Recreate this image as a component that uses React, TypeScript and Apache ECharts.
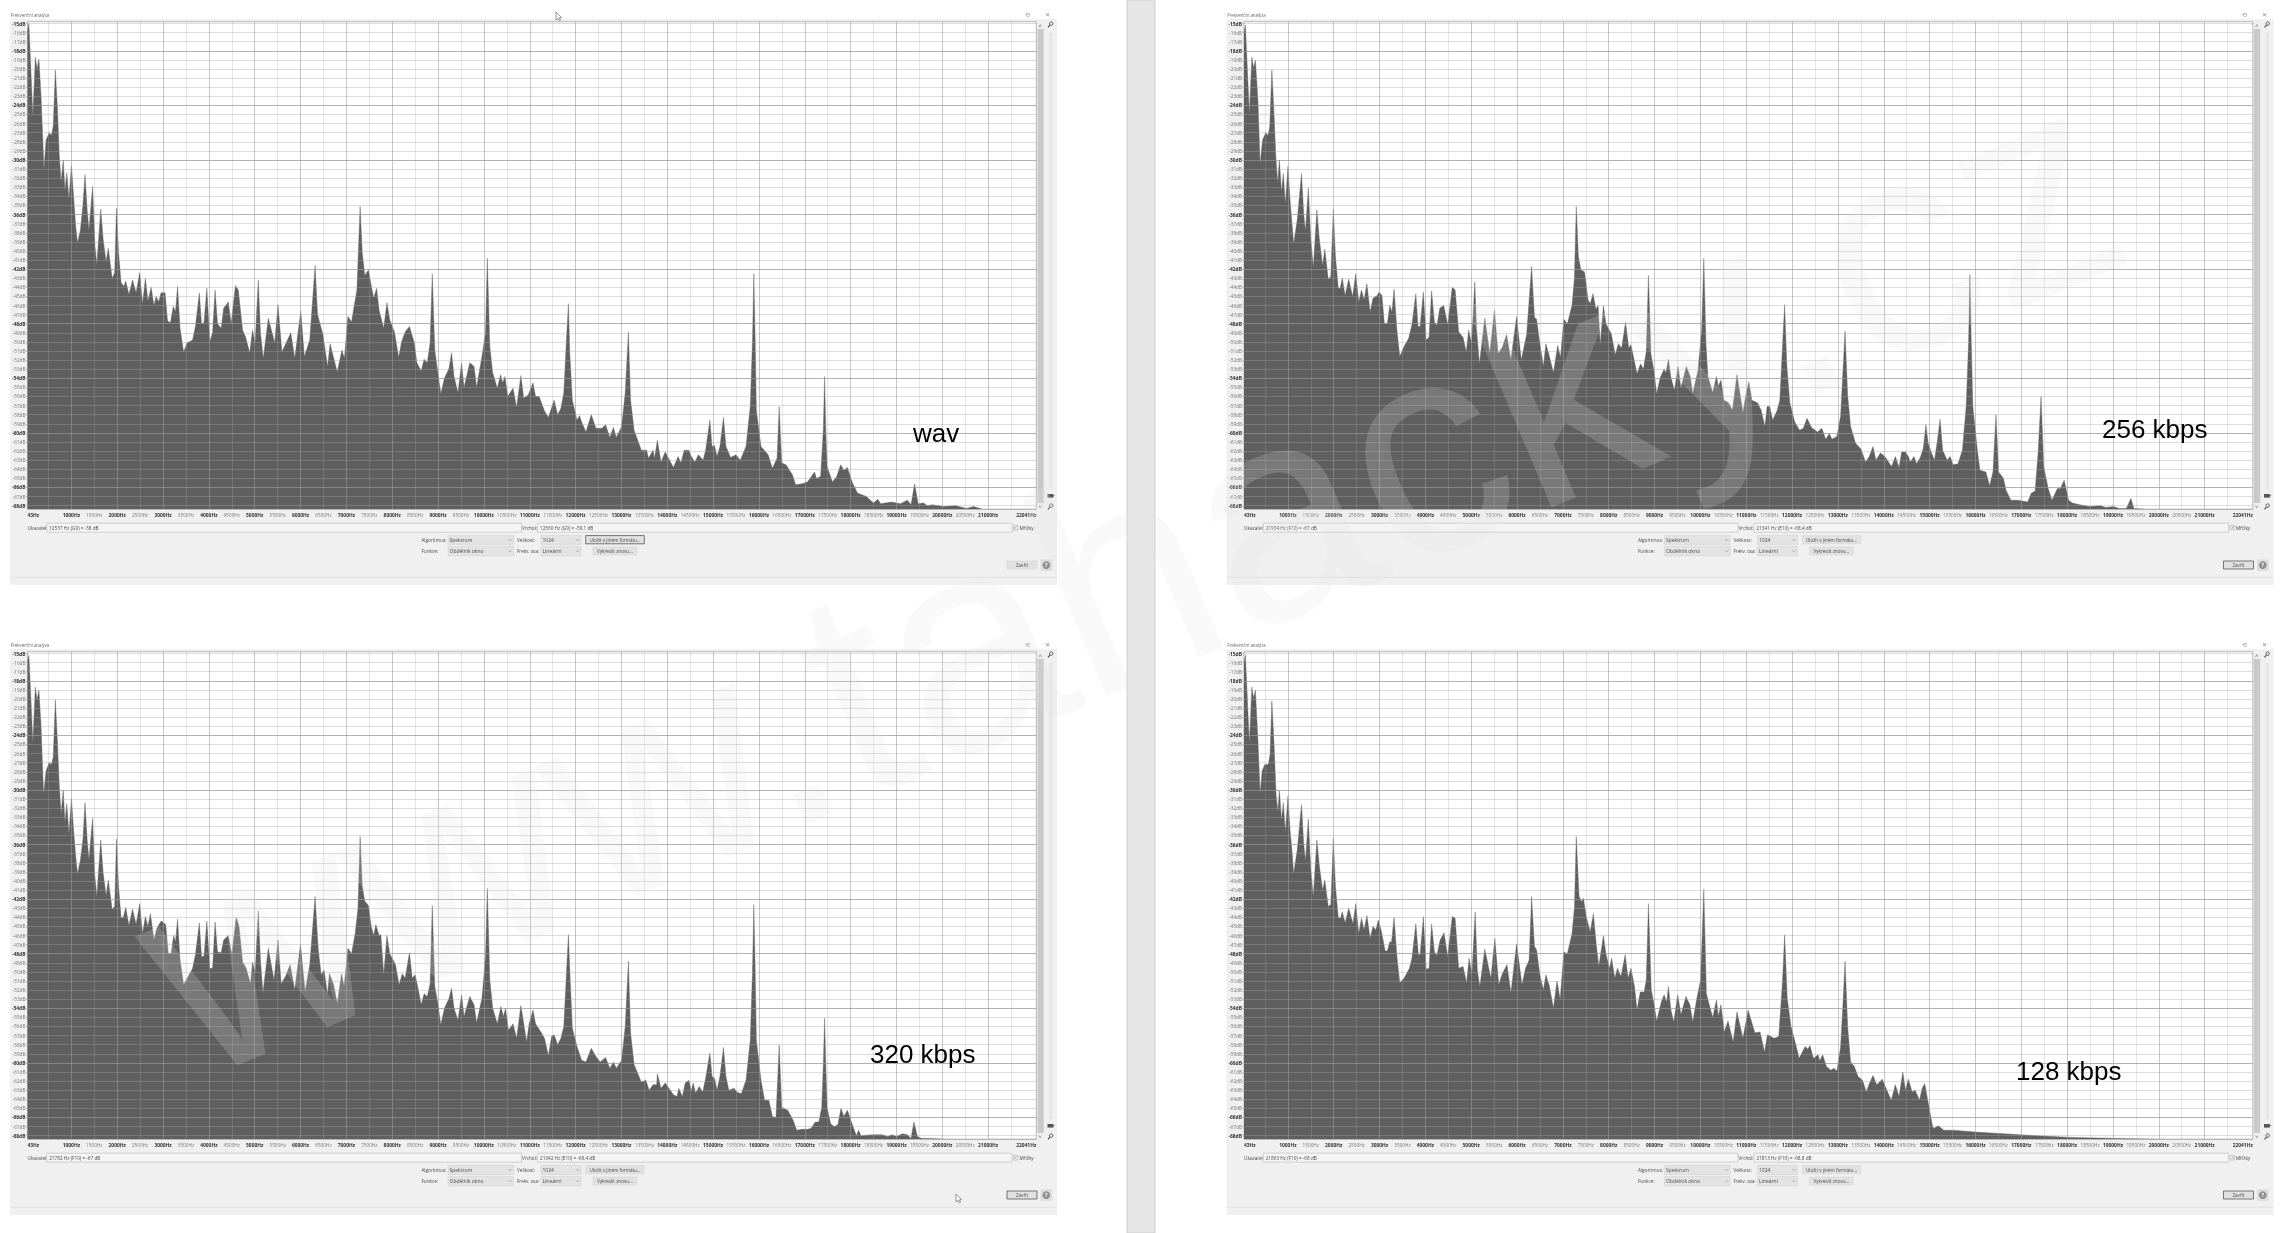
import React, { useEffect, useRef } from "react";
import * as echarts from "echarts";

const wavSpectrum = [[43,-16],[74,-15],[160,-25.2],[214,-18.7],[253,-20],[292,-18.9],[339,-23],[402,-31],[448,-27.8],[518,-27],[565,-27.3],[604,-26.3],[651,-20.1],[698,-24.5],[737,-29.6],[776,-32.4],[822,-30],[861,-33.3],[900,-31.4],[947,-34.3],[1002,-30.6],[1048,-34],[1095,-37.3],[1134,-39.1],[1197,-37.7],[1251,-35],[1298,-31.6],[1345,-35.5],[1384,-37.7],[1462,-32.9],[1516,-39.5],[1555,-41.5],[1641,-35.4],[1695,-38.8],[1758,-41.2],[1805,-39.7],[1890,-43],[1945,-42.4],[1984,-35.3],[2030,-40.2],[2085,-43.5],[2147,-43.9],[2186,-43.3],[2256,-44.8],[2334,-43.2],[2412,-44.6],[2490,-42.4],[2553,-45.8],[2615,-43],[2670,-45.5],[2740,-44],[2802,-46],[2849,-45],[2904,-45.6],[2958,-44.6],[3044,-44.6],[3098,-47.7],[3161,-47.9],[3223,-46.1],[3270,-46.7],[3317,-43.9],[3371,-48.5],[3449,-51.1],[3527,-50.1],[3644,-49.8],[3706,-48.3],[3792,-44.6],[3839,-48],[3893,-47.9],[3956,-44.1],[4018,-50],[4080,-49],[4135,-44.3],[4189,-48],[4267,-48.5],[4322,-46.3],[4423,-45.6],[4486,-48],[4579,-43.8],[4642,-44.3],[4735,-48.7],[4797,-49.4],[4891,-51.2],[4953,-48.7],[5008,-50.2],[5078,-43.2],[5125,-49],[5187,-51.8],[5296,-47.4],[5437,-50.1],[5507,-45.9],[5593,-51.1],[5787,-49],[5873,-51.8],[6005,-46.6],[6083,-51.6],[6200,-49.8],[6317,-41.6],[6371,-47],[6488,-49.2],[6590,-52.7],[6644,-50.2],[6800,-53.3],[6902,-50.9],[6956,-51.8],[7034,-47.2],[7112,-47.8],[7167,-46.1],[7229,-44.3],[7299,-35.1],[7346,-40.2],[7401,-42.7],[7479,-42.1],[7541,-43.8],[7595,-45.2],[7658,-44.1],[7712,-46.5],[7814,-48.5],[7884,-45.7],[7946,-47.6],[8048,-48.9],[8141,-51.7],[8203,-50],[8281,-48.9],[8375,-48.3],[8476,-50],[8538,-52.3],[8632,-53.2],[8694,-51.9],[8764,-52.3],[8826,-50.1],[8873,-42.5],[8928,-50.9],[8990,-53.2],[9060,-55.7],[9138,-54],[9239,-52.9],[9294,-51.2],[9348,-53.8],[9434,-55.6],[9512,-52.3],[9566,-55],[9691,-52.3],[9785,-52.7],[9840,-55],[9957,-51.6],[10035,-49],[10074,-40.8],[10129,-50.5],[10191,-53.4],[10292,-55.1],[10362,-53.6],[10409,-54.5],[10460,-53.8],[10518,-56],[10635,-55.1],[10713,-57.2],[10806,-53.7],[10869,-56.2],[10970,-55.8],[11071,-54.5],[11126,-56],[11204,-56],[11321,-57.6],[11406,-58.3],[11531,-56.4],[11609,-58],[11679,-57.3],[11742,-55.6],[11804,-49.4],[11843,-45.8],[11874,-51.3],[11929,-56.4],[12030,-58.6],[12085,-58.1],[12131,-58.8],[12225,-59.9],[12342,-58],[12443,-59.5],[12576,-59.5],[12654,-59.1],[12747,-60.5],[12825,-59.4],[12887,-60.5],[13004,-59.3],[13082,-55.6],[13152,-48.9],[13199,-56.4],[13277,-59.7],[13433,-61.9],[13550,-61.9],[13589,-62.8],[13690,-61.9],[13721,-62.8],[13784,-60.8],[13862,-63.2],[13955,-62.1],[14134,-63.8],[14236,-62.6],[14298,-63.3],[14368,-61.9],[14470,-61.9],[14524,-62.6],[14602,-63.2],[14680,-62.4],[14781,-63],[14836,-61.9],[14929,-58.6],[14976,-61.5],[15031,-61.4],[15085,-62.6],[15148,-61.5],[15226,-58.3],[15280,-61.5],[15381,-62.7],[15498,-62.4],[15592,-63],[15717,-61.5],[15810,-57.1],[15858,-50],[15888,-42.5],[15918,-50],[15943,-57.5],[16044,-61.5],[16200,-62.4],[16293,-63.9],[16395,-62.8],[16441,-57.1],[16496,-63.3],[16589,-63.5],[16730,-64.6],[16800,-65.7],[16940,-65.6],[17057,-65.4],[17213,-64.3],[17252,-65],[17345,-64.8],[17405,-59.5],[17431,-53.8],[17457,-59.5],[17486,-63.7],[17603,-65.4],[17696,-64.8],[17782,-63.5],[17852,-64.1],[17930,-63.8],[18031,-65.4],[18148,-66.6],[18343,-67],[18499,-67.7],[18593,-67.3],[18655,-67.8],[18889,-67.6],[19084,-67.8],[19239,-67.4],[19317,-67.9],[19395,-65.6],[19473,-67.8],[19590,-67.7],[19668,-68],[19785,-67.9],[20019,-68.1],[20292,-68],[20526,-68.3],[20682,-68.1],[20877,-68.4],[22050,-68.4]];

const kbps320Spectrum = [[43,-16],[74,-15.2],[160,-24.8],[214,-18.7],[253,-20.1],[292,-19],[339,-23],[394,-30.5],[448,-27.9],[518,-27],[565,-27.2],[604,-26.4],[651,-20.1],[698,-24.9],[737,-29.6],[776,-32.6],[822,-30],[861,-33.5],[900,-31.5],[947,-34.8],[1002,-30.9],[1048,-34.4],[1095,-37.3],[1134,-39.2],[1197,-37.7],[1251,-35.5],[1298,-31.4],[1345,-35.5],[1384,-37.7],[1462,-33.1],[1508,-39.2],[1555,-41.7],[1641,-35.5],[1695,-39.2],[1758,-41.6],[1805,-39.9],[1890,-43.1],[1945,-42.8],[1984,-35.4],[2030,-40.6],[2085,-44.1],[2140,-43.9],[2186,-42.9],[2256,-44.9],[2334,-43.1],[2412,-44.8],[2490,-42.5],[2553,-45.8],[2615,-43.9],[2670,-45],[2724,-43.6],[2802,-46.5],[2865,-45.2],[2958,-44.4],[3059,-44.8],[3114,-48],[3176,-48],[3231,-46],[3270,-46.7],[3317,-44.2],[3371,-48.7],[3449,-51.4],[3527,-50.7],[3644,-49.6],[3706,-48.1],[3792,-44.6],[3839,-48.3],[3893,-48.3],[3956,-44.4],[4018,-49.6],[4080,-49.6],[4135,-44.5],[4189,-47.8],[4267,-47.9],[4322,-46.5],[4423,-46],[4501,-48.1],[4595,-44],[4657,-45],[4735,-48.9],[4813,-49.6],[4906,-51.3],[4953,-48.9],[5008,-50.2],[5078,-43.3],[5125,-48.7],[5179,-52.3],[5296,-47.4],[5421,-50.9],[5507,-46.5],[5577,-51.3],[5670,-50.5],[5772,-49.2],[5873,-52],[5998,-47],[6099,-52.2],[6200,-49.2],[6317,-41.7],[6387,-47.6],[6450,-50.3],[6512,-49.8],[6590,-52.5],[6629,-50.2],[6722,-51.4],[6800,-53.5],[6894,-50.2],[6949,-51.6],[7034,-47.4],[7112,-48],[7190,-45.8],[7252,-43],[7299,-35.1],[7346,-40.6],[7401,-42.2],[7479,-42.7],[7541,-45],[7595,-46],[7642,-44.8],[7712,-46],[7751,-45.9],[7814,-50.3],[7884,-46],[7946,-48],[8071,-49.2],[8149,-51.4],[8219,-50.2],[8281,-50.7],[8375,-47.9],[8437,-50.7],[8500,-50.3],[8570,-52],[8632,-53.6],[8694,-52.4],[8764,-52.7],[8826,-51.3],[8873,-42.7],[8928,-51.6],[8990,-53.3],[9060,-55.8],[9138,-54],[9239,-52.9],[9294,-51.8],[9348,-54],[9434,-55.3],[9512,-52.5],[9566,-54.9],[9691,-52.7],[9785,-53.6],[9840,-55.6],[9957,-52.9],[10035,-48.3],[10074,-40.8],[10129,-50.9],[10191,-54],[10292,-55.7],[10370,-53.8],[10425,-54.9],[10472,-54],[10534,-56.4],[10635,-55.7],[10713,-57.3],[10806,-53.7],[10931,-57.7],[10986,-55.7],[11071,-54.2],[11126,-55.7],[11243,-56.6],[11321,-57.3],[11406,-59.2],[11477,-57.1],[11531,-56.9],[11609,-58],[11679,-57.3],[11742,-56],[11804,-49.8],[11843,-45.9],[11882,-50.9],[11929,-56.2],[12030,-58.2],[12131,-59.7],[12225,-59.9],[12342,-58.4],[12443,-59.3],[12537,-59.9],[12654,-59.4],[12747,-60.6],[12825,-59.9],[12887,-60.6],[13004,-59.7],[13082,-56],[13152,-48.8],[13199,-56.7],[13277,-60.2],[13433,-62.1],[13534,-61.9],[13604,-63],[13690,-62.4],[13768,-62.4],[13784,-61.2],[13862,-62.8],[13955,-62.2],[14134,-63.5],[14212,-63.7],[14251,-62.8],[14329,-63.7],[14392,-62.2],[14470,-61.9],[14524,-63.1],[14563,-62.2],[14618,-63.3],[14696,-62.6],[14774,-63.2],[14836,-61.7],[14929,-58.9],[14976,-61.5],[15031,-61.7],[15085,-63],[15148,-61.5],[15226,-58.3],[15280,-61.5],[15343,-63],[15460,-62.8],[15514,-63.2],[15615,-63.4],[15717,-61.9],[15810,-57.5],[15858,-50],[15888,-42.6],[15918,-50],[15943,-57.5],[16044,-61.9],[16122,-64.1],[16215,-64.1],[16293,-65.9],[16371,-66],[16441,-58],[16496,-64.9],[16628,-65.2],[16745,-66.3],[16823,-67.4],[16940,-67.3],[17057,-67.3],[17135,-67.2],[17228,-66.5],[17306,-66.5],[17369,-64.9],[17405,-60],[17431,-55.1],[17457,-60],[17486,-64.9],[17564,-66.7],[17642,-67],[17720,-66.8],[17790,-65],[17852,-65.9],[17930,-65.2],[18031,-66.7],[18125,-68],[18172,-67.4],[18226,-68],[18460,-67.9],[18694,-67.9],[18811,-68.1],[18904,-67.9],[19005,-68.1],[19122,-67.8],[19239,-67.9],[19317,-68.3],[19380,-66.5],[19457,-68.1],[19551,-68.3],[19746,-68.3],[20100,-68.4],[22050,-68.4]];

const kbps256Spectrum = [[43,-16],[74,-15.2],[160,-24.9],[214,-18.7],[253,-19.9],[292,-19],[347,-23.4],[394,-30.5],[448,-27.8],[518,-27],[565,-27.3],[604,-26.4],[651,-20.1],[698,-24.9],[737,-29.6],[776,-32.5],[815,-30],[861,-33.5],[900,-31.5],[947,-34.8],[1002,-30.7],[1048,-34.4],[1095,-37.3],[1126,-39.2],[1204,-36.6],[1298,-31.5],[1345,-35.9],[1384,-37.8],[1446,-33.1],[1501,-38.8],[1555,-41.8],[1633,-35.5],[1688,-38.8],[1758,-41.6],[1805,-39.8],[1882,-43.1],[1937,-42.8],[1992,-35.4],[2038,-40.6],[2100,-44.1],[2140,-44.1],[2186,-43],[2249,-44.9],[2327,-43.1],[2412,-45],[2482,-42.5],[2545,-45.6],[2607,-44.3],[2662,-45.4],[2724,-43.6],[2794,-46.7],[2857,-45.2],[2950,-44.9],[2989,-44.5],[3052,-44.9],[3106,-48],[3169,-48],[3223,-46],[3270,-46.7],[3317,-44.2],[3379,-48.7],[3441,-51.6],[3535,-50.5],[3636,-49.6],[3706,-48.1],[3792,-44.7],[3839,-48.3],[3885,-48.3],[3956,-44.5],[4018,-49.8],[4080,-49.5],[4135,-44.4],[4197,-47.8],[4252,-48.2],[4314,-46.3],[4400,-46],[4486,-48.1],[4587,-44],[4649,-44.3],[4727,-48.9],[4821,-49.5],[4891,-51.1],[4945,-48.7],[5008,-50.2],[5078,-43.4],[5117,-48.7],[5179,-52.4],[5296,-47.4],[5405,-51.3],[5507,-46.5],[5585,-51.3],[5678,-50.6],[5772,-49.2],[5865,-52],[5990,-47.2],[6091,-52],[6208,-49.2],[6317,-41.7],[6380,-47.3],[6426,-47.5],[6497,-50.2],[6574,-52.7],[6629,-50.2],[6691,-51.3],[6793,-53.4],[6886,-50.4],[6948,-51.7],[7019,-47.5],[7097,-48],[7198,-46],[7252,-42.9],[7291,-35.1],[7338,-40.6],[7393,-42.1],[7471,-42.3],[7549,-45.4],[7595,-45.8],[7658,-44.7],[7720,-46.4],[7767,-46],[7814,-50.3],[7884,-46],[7938,-48],[8055,-49.1],[8141,-51.4],[8211,-50.2],[8281,-50.7],[8367,-47.8],[8437,-50.7],[8484,-50.3],[8617,-53.5],[8694,-52.4],[8757,-53],[8819,-51],[8866,-42.7],[8920,-51.3],[8990,-53.3],[9045,-55.7],[9123,-53.9],[9208,-53],[9247,-53.4],[9302,-51.9],[9356,-53.9],[9434,-55.3],[9512,-52.7],[9575,-55.1],[9692,-52.7],[9777,-53.8],[9832,-55.7],[9949,-53.1],[10027,-48.7],[10074,-40.8],[10121,-50.2],[10163,-53.8],[10268,-55.6],[10350,-53.8],[10390,-54.9],[10447,-54.2],[10512,-56.4],[10610,-56.7],[10699,-57.5],[10797,-53.6],[10927,-57.8],[11000,-55.6],[11057,-54.4],[11122,-56.4],[11244,-56.7],[11325,-57.5],[11407,-59.3],[11455,-57.1],[11512,-57.1],[11577,-58.6],[11675,-57.5],[11732,-56.4],[11797,-49.8],[11837,-45.9],[11886,-52.7],[11951,-56.7],[12057,-58.8],[12163,-59.7],[12244,-59.5],[12325,-58.4],[12423,-59.4],[12553,-59.9],[12650,-59.5],[12732,-60.7],[12813,-60.1],[12870,-60.7],[12976,-60.4],[13057,-58.2],[13106,-53.5],[13155,-48.8],[13212,-55.9],[13276,-59.3],[13382,-61.1],[13504,-61.8],[13602,-63.2],[13683,-62.6],[13764,-61.5],[13829,-63],[13927,-62.2],[14024,-62.6],[14170,-63.7],[14252,-62.6],[14333,-63.8],[14390,-62.1],[14471,-62.1],[14537,-62.6],[14577,-63.2],[14659,-62.6],[14715,-63.4],[14797,-62.7],[14862,-61.7],[14919,-59.1],[14967,-61.1],[15041,-62.2],[15106,-63],[15171,-60.8],[15228,-58.5],[15285,-61.9],[15382,-63],[15447,-62.6],[15512,-63.5],[15618,-63.4],[15715,-61.9],[15797,-57.1],[15850,-50],[15878,-42.6],[15908,-50],[15943,-57.1],[16041,-61.9],[16098,-64.1],[16228,-64.3],[16309,-65.8],[16382,-64.3],[16447,-58],[16504,-64.3],[16610,-65],[16667,-66.3],[16772,-67.4],[16935,-67.4],[17138,-67.6],[17220,-66.6],[17301,-66.4],[17366,-62.2],[17431,-56],[17488,-63.7],[17586,-66.1],[17668,-67.4],[17788,-66.1],[17853,-66.1],[17935,-65.2],[18032,-67.4],[18112,-67.7],[18276,-67.9],[18480,-68.1],[18724,-68],[18846,-68.2],[19008,-68.1],[19130,-68.3],[19293,-68.3],[19390,-67.2],[19455,-68.3],[19740,-68.4],[22050,-68.4]];

const kbps128Spectrum = [[43,-16],[74,-15.2],[160,-24.9],[214,-18.7],[253,-19.9],[292,-19],[347,-24.5],[394,-30.4],[440,-27.9],[495,-27.2],[573,-27.2],[612,-26.1],[651,-20.2],[698,-24.9],[744,-30.6],[783,-32.4],[815,-30],[861,-33.3],[900,-31.4],[947,-34.6],[1002,-30.7],[1048,-34.4],[1095,-37],[1126,-39.2],[1204,-36.6],[1298,-31.6],[1345,-35.9],[1384,-37.8],[1446,-33.2],[1501,-38.8],[1555,-41.7],[1633,-35.5],[1688,-38.4],[1758,-41],[1805,-39.9],[1882,-42.8],[1937,-42.6],[1992,-35.3],[2038,-40.6],[2100,-44],[2147,-44.1],[2186,-43.4],[2249,-44.6],[2327,-43],[2420,-44.7],[2482,-42.5],[2545,-45.8],[2607,-44.1],[2662,-45.4],[2724,-43.8],[2794,-46.3],[2857,-45],[2919,-45.4],[2973,-44.3],[3044,-45.6],[3122,-47.7],[3169,-47.7],[3223,-46.7],[3262,-46.7],[3317,-44],[3379,-48.3],[3441,-51.2],[3535,-50.7],[3652,-49.6],[3706,-48.5],[3792,-44.7],[3847,-48.1],[3885,-48.1],[3956,-43.9],[4018,-49.7],[4080,-49.6],[4135,-44.7],[4197,-47.8],[4252,-48.2],[4322,-46.5],[4407,-45.7],[4486,-48.3],[4587,-43.9],[4649,-44.1],[4727,-49.6],[4821,-49.4],[4899,-51.2],[4953,-48.5],[5016,-50.2],[5086,-43.4],[5133,-49.8],[5187,-51.6],[5296,-47.5],[5429,-50.7],[5515,-46.3],[5600,-51.4],[5678,-50.2],[5780,-49.2],[5865,-52.3],[5990,-46.9],[6107,-51.4],[6185,-49.6],[6263,-48.7],[6317,-41.7],[6380,-47.2],[6426,-47.6],[6497,-50.3],[6574,-52],[6629,-50.3],[6707,-51.6],[6793,-54],[6871,-51],[6941,-53],[7019,-47.8],[7097,-48],[7198,-45.8],[7252,-42.9],[7291,-35.1],[7353,-41.7],[7408,-42.3],[7447,-41.9],[7509,-43.9],[7595,-45.6],[7665,-43.6],[7728,-47],[7783,-49.4],[7884,-46],[7938,-48],[8016,-49.6],[8063,-48.5],[8133,-50.7],[8188,-49.6],[8266,-50.5],[8359,-48.1],[8422,-50.7],[8484,-49.6],[8562,-51.6],[8617,-54.2],[8687,-52.2],[8772,-52.2],[8819,-50.9],[8866,-42.5],[8928,-52],[8990,-53.6],[9045,-55.4],[9146,-53.3],[9208,-52.5],[9263,-53.3],[9302,-51.6],[9356,-54.2],[9419,-55.5],[9504,-52.5],[9575,-54.7],[9684,-52.7],[9770,-53.6],[9832,-55.5],[9926,-52.8],[10004,-50.9],[10074,-40.9],[10130,-52.4],[10187,-53.5],[10268,-55],[10350,-53.1],[10390,-54.9],[10447,-53.6],[10520,-56.6],[10602,-55.4],[10715,-57.7],[10797,-54.4],[10927,-57.3],[11041,-54.2],[11187,-56.7],[11301,-56.6],[11398,-58.8],[11463,-56.9],[11610,-57.3],[11708,-57.1],[11789,-51.2],[11837,-45.9],[11894,-52.9],[11976,-56],[12081,-58],[12154,-59.5],[12285,-58.2],[12342,-58.5],[12390,-58.1],[12463,-59.5],[12569,-59.1],[12601,-59.8],[12667,-59.1],[12748,-60.4],[12845,-60.8],[12910,-60.6],[12976,-60.9],[13057,-58.3],[13114,-53.1],[13155,-48.8],[13212,-56],[13276,-59.9],[13358,-60.4],[13439,-61.5],[13537,-61.9],[13618,-63.2],[13683,-62.3],[13764,-61.4],[13846,-62.4],[13967,-61.8],[14049,-62.8],[14163,-64.1],[14252,-62.4],[14333,-63.7],[14415,-61],[14472,-63],[14537,-61.8],[14618,-63.2],[14683,-63],[14780,-64.1],[14837,-62.8],[14894,-62.3],[14959,-64.1],[15065,-67],[15090,-67.2],[15187,-66.9],[15309,-67.4],[15512,-67.4],[16000,-67.6],[16975,-67.9],[18112,-68.2],[19170,-68.3],[20146,-68.4],[22050,-68.4]];

const panelNames = ["wav", "256 kbps", "320 kbps", "128 kbps"];
const panelSpectra = [wavSpectrum, kbps256Spectrum, kbps320Spectrum, kbps128Spectrum];
const cursorTexts = ["12537 Hz (G9) = -58 dB", "21934 Hz (F10) = -67 dB", "21782 Hz (F10) = -67 dB", "21863 Hz (F10) = -68 dB"];
const peakTexts = ["12560 Hz (G9) = -59,1 dB", "21341 Hz (E10) = -68,4 dB", "21342 Hz (E10) = -68,4 dB", "21813 Hz (F10) = -68,8 dB"];

const xGridTicks = [500,1000,1500,2000,2500,3000,3500,4000,4500,5000,5500,6000,6500,7000,7500,8000,8500,9000,9500,10000,10500,11000,11500,12000,12500,13000,13500,14000,14500,15000,15500,16000,16500,17000,17500,18000,18500,19000,19500,20000,20500,21000,21500];
const xTickLabels = [43,1000,1500,2000,2500,3000,3500,4000,4500,5000,5500,6000,6500,7000,7500,8000,8500,9000,9500,10000,10500,11000,11500,12000,12500,13000,13500,14000,14500,15000,15500,16000,16500,17000,17500,18000,18500,19000,19500,20000,20500,21000,22050];
const yTicks = [-68,-67,-66,-65,-64,-63,-62,-61,-60,-59,-58,-57,-56,-55,-54,-53,-52,-51,-50,-49,-48,-47,-46,-45,-44,-43,-42,-41,-40,-39,-38,-37,-36,-35,-34,-33,-32,-31,-30,-29,-28,-27,-26,-25,-24,-23,-22,-21,-20,-19,-18,-17,-16,-15];

const FONT = '"Open Sans", sans-serif';
const PANEL_OFFSETS = [[0, 0], [1216.5, 0], [0, 630], [1216.5, 630]];
const LABEL_POS = [[913, 420], [2102, 415.5], [870, 1041], [2016, 1058]];
const TITLE = "Frekvenční analýza";

function label(text: string, x: number, y: number, extra: any = {}) {
  return { type: "text", silent: true, style: { text, x, y, fill: "#4a4a4a", fontSize: 5, fontFamily: FONT, textVerticalAlign: "middle", ...extra } };
}
function box(x: number, y: number, w: number, h: number, fill: string, stroke = "none", lineWidth = 0.6) {
  return { type: "rect", silent: true, shape: { x, y, width: w, height: h }, style: { fill, stroke, lineWidth } };
}
function select(x: number, y: number, w: number, h: number, text: string) {
  return [
    box(x, y, w, h, "#e3e3e3", "#d2d2d2"),
    label(text, x + 1.5, y + h / 2),
    { type: "polyline", silent: true, shape: { points: [[x + w - 5, y + h / 2 - 0.8], [x + w - 3.5, y + h / 2 + 0.8], [x + w - 2, y + h / 2 - 0.8]] }, style: { stroke: "#777", fill: "none", lineWidth: 0.5 } },
  ];
}

function chrome(i: number) {
  const [dx, dy] = PANEL_OFFSETS[i];
  const X = (v: number) => v + dx;
  const Y = (v: number) => v + dy;
  const saveFocused = i === 0;
  const closeFocused = i !== 0;
  return [
    box(X(10), Y(19), 1047, 566, "#f0f0f0"),
    box(X(27.5), Y(21.7), 1008.8, 487.6, "#ffffff", "#a8a8a8", 0.8),
    label(TITLE, X(10.7), Y(15), { fill: "#666", fontSize: 4.4 }),
    label("⟲", X(1025), Y(14.5), { fill: "#888", fontSize: 6 }),
    label("✕", X(1045), Y(14.5), { fill: "#888", fontSize: 5.5 }),
    box(X(1037.5), Y(29), 6.2, 474, "#c9c9c9"),
    box(X(1049.5), Y(33), 2.8, 456, "#e6e6e6"),
    label("˄", X(1038.6), Y(25.5), { fill: "#666", fontSize: 6 }),
    label("˅", X(1038.6), Y(507), { fill: "#666", fontSize: 6 }),
    { type: "circle", silent: true, shape: { cx: X(1051.2), cy: Y(23.6), r: 1.7 }, style: { fill: "none", stroke: "#444", lineWidth: 0.9 } },
    { type: "line", silent: true, shape: { x1: X(1050), y1: Y(25), x2: X(1048), y2: Y(27.4) }, style: { stroke: "#444", lineWidth: 1.1 } },
    box(X(1047.5), Y(494), 5.8, 3.6, "#555"),
    { type: "polygon", silent: true, shape: { points: [[X(1053.3), Y(495)], [X(1055), Y(495.8)], [X(1053.3), Y(496.6)]] }, style: { fill: "#555" } },
    { type: "circle", silent: true, shape: { cx: X(1051.2), cy: Y(505.6), r: 1.7 }, style: { fill: "none", stroke: "#444", lineWidth: 0.9 } },
    { type: "line", silent: true, shape: { x1: X(1050), y1: Y(507), x2: X(1048), y2: Y(509.4) }, style: { stroke: "#444", lineWidth: 1.1 } },

    label("Ukazatel:", X(27.5), Y(527.5), { fontSize: 4.7 }),
    box(X(46.8), Y(523.2), 474.6, 9, "#f4f4f4", "#b9b9b9"),
    label(cursorTexts[i], X(49.2), Y(527.6), { fontSize: 4.7 }),
    label("Vrchol:", X(522), Y(527.5), { fontSize: 4.7 }),
    box(X(537.5), Y(523.2), 474.5, 9, "#f4f4f4", "#b9b9b9"),
    label(peakTexts[i], X(540), Y(527.6), { fontSize: 4.7 }),
    box(X(1013.6), Y(525.4), 4.2, 4.6, "#f8f8f8", "#777", 0.4),
    label("✓", X(1014), Y(527.8), { fontSize: 4, fill: "#444" }),
    label("Mřížky", X(1019.4), Y(527.8), { fontSize: 4.7 }),

    label("Algoritmus:", X(421.4), Y(540), { fontSize: 4.7 }),
    ...select(X(448), Y(535.4), 65.6, 9, "Spektrum"),
    label("Funkce:", X(421.4), Y(550.6), { fontSize: 4.7 }),
    ...select(X(448), Y(546.4), 65.6, 9.4, "Obdélník okno"),
    label("Velikost:", X(517), Y(540), { fontSize: 4.7 }),
    ...select(X(541), Y(535.4), 40, 9, "1024"),
    label("Frekv. osa:", X(517), Y(550.6), { fontSize: 4.5 }),
    ...select(X(541), Y(546.4), 40, 9.4, "Lineární"),

    box(X(585.7), Y(535.6), 58.6, 8.2, "#e1e1e1", saveFocused ? "#555" : "#d2d2d2", saveFocused ? 0.8 : 0.5),
    label("Uložit v jiném formátu...", X(615), Y(539.8), { textAlign: "center", fontSize: 4.6 }),
    box(X(592.9), Y(547), 43.9, 8, "#e1e1e1", "#d2d2d2", 0.5),
    label("Vykreslit znovu...", X(614.8), Y(551), { textAlign: "center", fontSize: 4.6 }),
    box(X(1007), Y(561), 30, 8, "#e1e1e1", closeFocused ? "#555" : "#d2d2d2", closeFocused ? 0.8 : 0.5),
    label("Zavřít", X(1022), Y(565), { textAlign: "center", fontSize: 4.6 }),
    { type: "rect", silent: true, shape: { x: X(1041), y: Y(559.8), width: 10.6, height: 10.6 }, style: { fill: "#dedede", stroke: "#d0d0d0", lineWidth: 0.5 } },
    { type: "circle", silent: true, shape: { cx: X(1046.3), cy: Y(565.1), r: 3.9 }, style: { fill: "#8f8f8f" } },
    label("?", X(1046.3), Y(565.2), { textAlign: "center", fill: "#f2f2f2", fontSize: 6, fontWeight: "bold" }),
    { type: "line", silent: true, shape: { x1: X(10), y1: Y(577.3), x2: X(1057), y2: Y(577.3) }, style: { stroke: "#dcdcdc", lineWidth: 0.8 } },
  ];
}

function cursorMark(x: number, y: number) {
  return { type: "polygon", silent: true, shape: { points: [[x, y], [x, y + 8], [x + 2, y + 6.3], [x + 3.4, y + 8.8], [x + 4.6, y + 8.2], [x + 3.2, y + 5.8], [x + 5.6, y + 5.6]] }, style: { fill: "#fff", stroke: "#555", lineWidth: 0.6 } };
}

const DB_TOP = -14.8;
const DB_BOTTOM = -68.4;
const Y_MINOR = "rgba(165,165,165,0.42)";
const Y_MAJOR = "rgba(148,148,148,0.8)";

export default function App() {
  const ref = useRef<HTMLDivElement>(null);
  useEffect(() => {
    document.body.style.margin = "0";
    const chart = echarts.init(ref.current!, null, { renderer: "svg" });
    const grids: any[] = [], xAxes: any[] = [], yAxes: any[] = [], series: any[] = [];
    PANEL_OFFSETS.forEach(([dx, dy], i) => {
      grids.push({
        show: false,
        left: 27.5 + dx, top: 21.7 + dy, width: 1008.8, height: 487.6,
      });
      xAxes.push({
        type: "value", gridIndex: i, min: 43, max: 22050, z: 3,
        axisLine: { show: false },
        axisTick: { show: false, customValues: xGridTicks },
        splitLine: { show: true, lineStyle: { color: ["rgba(167,167,167,0.37)", "rgba(155,155,155,0.72)"], width: 0.8 } },
        axisLabel: {
          customValues: xTickLabels, margin: 3.5, alignMinLabel: "left", alignMaxLabel: "right",
          formatter: (v: number) => {
            if (v === 22050) return "{b|22041Hz}";
            if (v === 43) return "{b|43Hz}";
            return v % 1000 === 0 ? `{b|${v}Hz}` : `{n|${v}Hz}`;
          },
          rich: {
            b: { fontSize: 4.9, fontWeight: "bold", color: "#333", fontFamily: FONT },
            n: { fontSize: 4.7, color: "#777", fontFamily: FONT },
          },
        },
      });
      yAxes.push({
        type: "value", gridIndex: i, min: DB_BOTTOM, max: DB_TOP, z: 3,
        axisLine: { show: false },
        axisTick: { show: true, customValues: yTicks, length: 1.5, lineStyle: { color: "#888", width: 0.5 } },
        splitLine: {
          show: true,
          lineStyle: { color: [Y_MINOR, Y_MINOR, Y_MAJOR, Y_MINOR, Y_MINOR, Y_MINOR], width: 0.9 },
        },
        axisLabel: {
          customValues: yTicks, margin: 2,
          formatter: (v: number) => (v % 6 === 0 || v === -15 || v === -68 ? `{b|${v}dB}` : `{n|${v}dB}`),
          rich: {
            b: { fontSize: 4.9, fontWeight: "bold", color: "#333", fontFamily: FONT },
            n: { fontSize: 4.7, color: "#777", fontFamily: FONT },
          },
        },
      });
      series.push({
        type: "line", name: panelNames[i], xAxisIndex: i, yAxisIndex: i, data: panelSpectra[i],
        showSymbol: false, symbol: "none", z: 2, silent: true,
        lineStyle: { color: "#5f5f5f", width: 0.4 },
        areaStyle: { color: "#5f5f5f", opacity: 1, origin: "start" },
      });
    });
    series.push({
      type: "custom", coordinateSystem: "none", z: 20, silent: true, data: [[0]],
      renderItem: () => ({
        type: "text", x: 215, y: 1125, rotation: (23 * Math.PI) / 180, silent: true,
        style: {
          text: "www.tahacky.cz", fontSize: 300, fontFamily: '"Liberation Sans", Arial, sans-serif',
          fill: "rgba(225,225,225,0.2)", textAlign: "left", textVerticalAlign: "bottom",
        },
      }),
    });
    chart.setOption({
      animation: false,
      backgroundColor: "#ffffff",
      grid: grids, xAxis: xAxes, yAxis: yAxes, series,
      title: panelNames.map((text, i) => ({
        text, left: LABEL_POS[i][0], top: LABEL_POS[i][1], padding: 0, z: 30,
        textStyle: { fontFamily: '"Liberation Sans", Arial, sans-serif', fontWeight: "normal", fontSize: 26, color: "#000" },
      })),
      graphic: {
        z: -1,
        elements: [
          box(1127, 0, 28, 1233, "#e6e6e6", "#c6c6c6", 0.8),
          ...[0, 1, 2, 3].flatMap(chrome),
          cursorMark(556, 12),
          cursorMark(956, 1194),
        ],
      },
    });
    return () => chart.dispose();
  }, []);
  return <div ref={ref} style={{ position: "fixed", left: 0, top: 0, width: 2284, height: 1233, filter: "blur(0.35px)" }} />;
}
